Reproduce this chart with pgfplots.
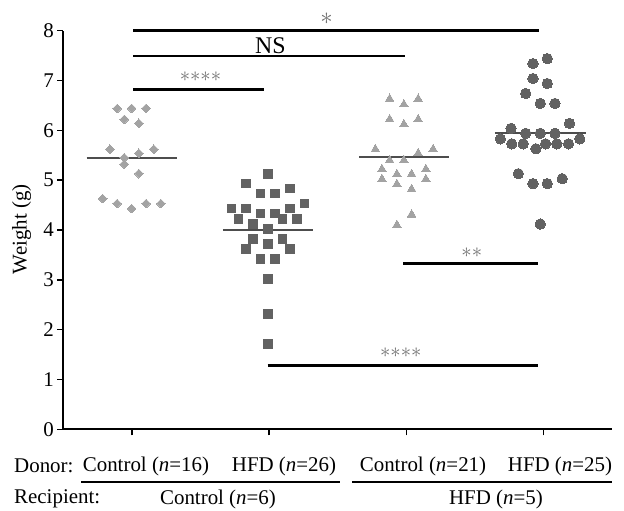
\documentclass[border=0pt]{standalone}
\usepackage{pgfplots}
\pgfplotsset{compat=1.18}
\usepackage{fontspec}
\setmainfont{Liberation Serif}
\definecolor{lightpt}{HTML}{A3A3A3}
\definecolor{darkpt}{HTML}{626262}
\definecolor{meanc}{HTML}{4D4D4D}
\definecolor{astc}{HTML}{707070}
\begin{document}
\begin{tikzpicture}
\path[use as bounding box] (-63.3bp,-81.7bp) rectangle (560.7bp,429.3bp);
\begin{axis}[
  at={(0,0)}, anchor=south west,
  scale only axis, width=548.7bp, height=398.6bp,
  xmin=0.5, xmax=4.5, ymin=0, ymax=8,
  axis x line=bottom, axis y line=left,
  axis line style={-, line width=1.6bp},
  xtick={1,2,3,4}, xticklabels={},
  ytick={0,1,...,8},
  tick align=outside, major tick length=6bp,
  tick style={line width=1.4bp, black},
  /pgf/number format/assume math mode=true,
  tick label style={font=\fontsize{21}{24}\selectfont},
  clip=false,
]
% Group 1: Control donor, Control recipient
\addplot[only marks, color=lightpt, mark=square*, mark size=3.1bp, mark options={rotate=45, fill=lightpt, draw=lightpt, line width=0pt}] coordinates {
(0.893,6.44) (0.998,6.44) (1.104,6.44)
(0.945,6.22) (1.051,6.14)
(0.840,5.62) (1.051,5.54) (1.160,5.62)
(0.945,5.45) (0.945,5.32) (1.051,5.13)
(0.787,4.63) (0.893,4.53) (1.104,4.53) (1.211,4.53) (0.998,4.43)
};
% Group 2: HFD donor, Control recipient
\addplot[only marks, color=darkpt, mark=square*, mark size=4.3bp, mark options={fill=darkpt, draw=darkpt, line width=0pt}] coordinates {
(1.991,5.13) (1.831,4.93) (1.938,4.73) (2.045,4.73) (2.151,4.83)
(1.725,4.43) (1.831,4.43) (2.258,4.53) (1.938,4.33) (2.045,4.33)
(2.151,4.43) (1.778,4.22) (2.098,4.22) (2.205,4.22) (1.885,4.12)
(1.991,4.02) (1.885,3.82) (2.098,3.82) (1.991,3.72) (1.831,3.62)
(2.151,3.62) (1.938,3.42) (2.045,3.42) (1.991,3.02) (1.991,2.31) (1.991,1.71)
};
% Group 3: Control donor, HFD recipient
\addplot[only marks, color=lightpt, mark=triangle*, mark size=5bp, mark options={fill=lightpt, draw=lightpt, line width=0pt}] coordinates {
(2.879,6.63) (2.983,6.52) (3.087,6.63)
(2.879,6.22) (2.983,6.12) (3.087,6.22)
(2.775,5.62) (3.196,5.62)
(2.879,5.40) (2.983,5.40) (3.087,5.54)
(2.823,5.22) (2.932,5.12) (3.039,5.12) (3.143,5.22)
(2.823,5.02) (3.143,5.02)
(2.932,4.92) (3.039,4.82) (3.039,4.31) (2.932,4.10)
};
% Group 4: HFD donor, HFD recipient
\addplot[only marks, color=darkpt, mark=*, mark size=5.2bp, mark options={fill=darkpt, draw=darkpt, line width=0pt}] coordinates {
(3.924,7.34) (4.028,7.44)
(3.924,7.04) (4.028,6.94)
(3.871,6.74)
(3.977,6.54) (4.084,6.54)
(4.190,6.14) (3.764,6.04)
(3.871,5.94) (3.977,5.94) (4.084,5.94)
(3.686,5.83) (4.265,5.83)
(3.769,5.73) (3.853,5.73) (4.016,5.73) (4.098,5.73) (4.183,5.73)
(3.945,5.63)
(3.817,5.13) (4.137,5.03) (3.924,4.93) (4.028,4.93)
(3.977,4.12)
};
% mean lines
\addplot[no marks, line width=2.2bp, meanc] coordinates {(0.670,5.44) (1.329,5.44)};
\addplot[no marks, line width=2.2bp, meanc] coordinates {(1.664,4.00) (2.319,4.00)};
\addplot[no marks, line width=2.2bp, meanc] coordinates {(2.658,5.47) (3.313,5.47)};
\addplot[no marks, line width=2.2bp, meanc] coordinates {(3.647,5.95) (4.307,5.95)};
% significance bars
\addplot[no marks, line width=2.7bp, black] coordinates {(1.01,8.0) (3.97,8.0)};
\addplot[no marks, line width=2.7bp, black] coordinates {(1.01,7.49) (2.99,7.49)};
\addplot[no marks, line width=2.7bp, black] coordinates {(1.01,6.82) (1.96,6.82)};
\addplot[no marks, line width=2.7bp, black] coordinates {(2.98,3.33) (3.96,3.33)};
\addplot[no marks, line width=2.7bp, black] coordinates {(1.99,1.28) (3.96,1.28)};
\draw[line width=1.6bp] (rel axis cs:0,0) -- (rel axis cs:1,0);
\node[astc, font=\fontsize{23}{25}\selectfont] at (axis cs:2.42,8.25) {${\ast}$};
\node[black, font=\fontsize{24}{26}\selectfont] at (axis cs:2.01,7.69) {NS};
\node[astc, font=\fontsize{21}{24}\selectfont] at (axis cs:1.50,7.08) {${\ast}{\ast}{\ast}{\ast}$};
\node[astc, font=\fontsize{21}{24}\selectfont] at (axis cs:3.478,3.54) {${\ast}{\ast}$};
\node[astc, font=\fontsize{21}{24}\selectfont] at (axis cs:2.96,1.54) {${\ast}{\ast}{\ast}{\ast}$};
\end{axis}
% y label
\node[rotate=90, font=\fontsize{21}{24}\selectfont] at (-41.6bp,200bp) {Weight (g)};
% bottom labels
\begin{scope}[every node/.style={inner sep=0pt, font=\fontsize{21}{24}\selectfont}]
\node[anchor=west] at (-49.3bp,-36.7bp) {Donor:};
\node at (82.7bp,-36.7bp) {Control (\textit{n}=16)};
\node at (220.7bp,-36.7bp) {HFD (\textit{n}=26)};
\node at (359.7bp,-36.7bp) {Control (\textit{n}=21)};
\node at (496.7bp,-36.7bp) {HFD (\textit{n}=25)};
\draw[line width=1.2bp] (17.7bp,-52.7bp) -- (276.7bp,-52.7bp);
\draw[line width=1.2bp] (288.7bp,-52.7bp) -- (548.7bp,-52.7bp);
\node[anchor=west] at (-49.3bp,-69.7bp) {Recipient:};
\node at (154.7bp,-69.7bp) {Control (\textit{n}=6)};
\node at (432.7bp,-69.7bp) {HFD (\textit{n}=5)};
\end{scope}
\end{tikzpicture}
\end{document}
